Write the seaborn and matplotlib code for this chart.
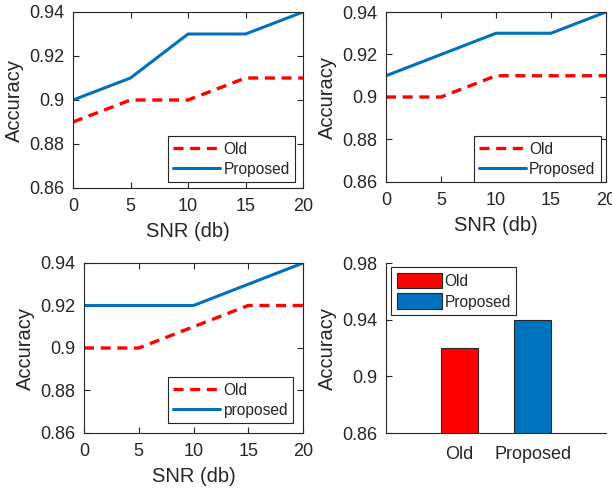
import matplotlib
matplotlib.use("Agg")
import matplotlib.pyplot as plt
import pandas as pd
import seaborn as sns

# data
snr = [0, 5, 10, 15, 20]
old_a = [0.89, 0.90, 0.90, 0.91, 0.91]
prop_a = [0.90, 0.91, 0.93, 0.93, 0.94]
old_b = [0.90, 0.90, 0.91, 0.91, 0.91]
prop_b = [0.91, 0.92, 0.93, 0.93, 0.94]
old_c = [0.90, 0.90, 0.91, 0.92, 0.92]
prop_c = [0.92, 0.92, 0.92, 0.93, 0.94]
bar_names = ["Old", "Proposed"]
bar_values = [0.92, 0.94]

line_ticks = [0.86, 0.88, 0.90, 0.92, 0.94]
line_ticklabels = ["0.86", "0.88", "0.9", "0.92", "0.94"]
bar_ticks = [0.86, 0.90, 0.94, 0.98]
bar_ticklabels = ["0.86", "0.9", "0.94", "0.98"]

RED = "#FF0000"
BLUE = "#0072BD"
INK = "#262626"

sns.set_style("ticks")
plt.rcParams["font.family"] = ["Liberation Sans", "DejaVu Sans"]

fig = plt.figure(figsize=(6.12, 4.9), dpi=100)
W, H = 612, 490


def px_axes(left, top, right, bottom):
    return fig.add_axes([left / W, 1 - bottom / H, (right - left) / W, (bottom - top) / H])


def line_panel(ax, old, prop, prop_label, anchor):
    sns.lineplot(x=snr, y=old, ax=ax, color=RED, linestyle=(0, (3, 2)), lw=2.4, label="Old")
    sns.lineplot(x=snr, y=prop, ax=ax, color=BLUE, lw=2.2, label=prop_label)
    ax.set_xlim(0, 20)
    ax.set_ylim(0.86, 0.94)
    ax.set_xticks(snr)
    ax.set_yticks(line_ticks)
    ax.set_yticklabels(line_ticklabels)
    ax.set_xlabel("SNR (db)", fontsize=14.5, color=INK, labelpad=5)
    ax.set_ylabel("Accuracy", fontsize=14.5, color=INK)
    ax.tick_params(direction="in", labelsize=13, length=4, colors=INK,
                   top=True, right=True, labeltop=False, labelright=False)
    ax.tick_params(axis="x", pad=7)
    ax.tick_params(axis="y", pad=6)
    for s in ax.spines.values():
        s.set_visible(True)
        s.set_color(INK)
        s.set_linewidth(0.8)
    ax.legend(loc="lower right", bbox_to_anchor=anchor, fontsize=11.2,
              handlelength=3.0, fancybox=False, edgecolor=INK, borderaxespad=0,
              framealpha=1, borderpad=0.35, labelspacing=0.3, handletextpad=0.2)
    ax.get_legend().get_frame().set_linewidth(0.8)


ax1 = px_axes(73, 12, 303, 188)
line_panel(ax1, old_a, prop_a, "Proposed", (0.965, 0.034))

ax2 = px_axes(386, 12, 606, 182)
line_panel(ax2, old_b, prop_b, "Proposed", (0.977, 0.0))

ax3 = px_axes(84, 263, 303, 433)
line_panel(ax3, old_c, prop_c, "proposed", (0.954, 0.059))

# bar panel
ax4 = px_axes(386, 263, 606, 433)
bars = pd.DataFrame({"method": bar_names, "acc": bar_values})
sns.barplot(data=bars, x="method", y="acc", hue="method", palette=[RED, BLUE],
            saturation=1, width=0.5, edgecolor=INK, linewidth=0.8, ax=ax4, legend=True)
ax4.set_xlim(-1, 2)
ax4.set_ylim(0.86, 0.98)
ax4.set_yticks(bar_ticks)
ax4.set_yticklabels(bar_ticklabels)
ax4.set_xlabel("")
ax4.set_ylabel("Accuracy", fontsize=14.5, color=INK)
ax4.tick_params(axis="y", direction="in", labelsize=13, length=4, colors=INK, pad=6)
ax4.tick_params(axis="x", direction="in", labelsize=13, length=0, colors=INK, pad=9)
for side in ["top", "right"]:
    ax4.spines[side].set_visible(False)
for side in ["left", "bottom"]:
    ax4.spines[side].set_color(INK)
    ax4.spines[side].set_linewidth(0.8)
leg = ax4.legend(loc="upper left", bbox_to_anchor=(0.023, 0.976), fontsize=11.2,
                 handlelength=2.9, handleheight=1.2, fancybox=False, edgecolor=INK,
                 borderaxespad=0, framealpha=1, borderpad=0.35, labelspacing=0.3,
                 handletextpad=0.2)
leg.get_frame().set_linewidth(0.8)

fig.savefig("out.png", dpi=100)
